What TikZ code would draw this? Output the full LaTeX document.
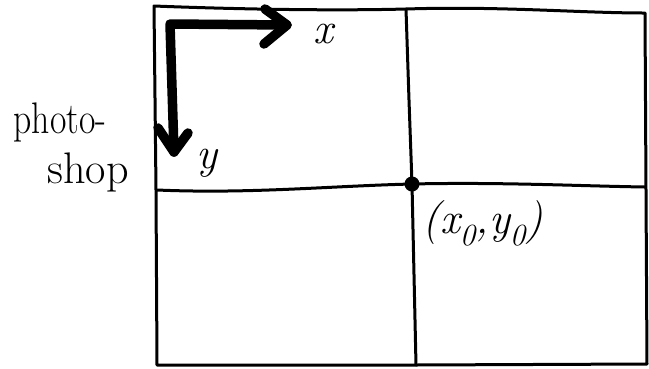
\documentclass[tikz,border=0pt]{standalone}
\usepackage{fontspec}
\begin{document}
\begin{tikzpicture}[x=1pt,y=-1pt,line cap=round,line join=round]
\tikzset{
  frame/.style={line width=3pt},
  axis/.style={line width=9.5pt},
  big/.style={inner sep=0pt,font=\fontsize{44}{48}\selectfont\itshape},
  hand/.style={inner sep=0pt,font=\fontsize{34}{38}\selectfont,yscale=1.3,transform shape}
}
\useasboundingbox (0,0) rectangle (649,368);
% corners and grid points
\coordinate (tl) at (154,6);
\coordinate (tm) at (406,9);
\coordinate (tr) at (645,13);
\coordinate (ml) at (157,190);
\coordinate (mr) at (645,187);
\coordinate (bl) at (157,365);
\coordinate (bm) at (416,365);
\coordinate (br) at (647,364);
% outer frame
\draw[frame] (tl) .. controls (230,9) and (330,11) .. (tm)
  .. controls (500,6) and (580,13) .. (tr)
  -- (646,190) -- (br) -- (bm) -- (bl) -- (156,190) -- cycle;
% inner lines
\draw[frame] (ml) .. controls (250,194) and (330,186) .. (412,184)
  .. controls (500,182) and (580,186) .. (mr);
\draw[frame] (tm) -- (409,100) -- (412,184) -- (bm);
% point
\node[circle,fill,inner sep=0pt,minimum size=15pt] (p) at (412,184) {};
% axes
\coordinate (o) at (170,24);
\coordinate (xe) at (287,25);
\coordinate (xa) at (265,9);
\coordinate (xb) at (264,44);
\coordinate (ye) at (174,152);
\coordinate (ya) at (158,128);
\coordinate (yb) at (188,133);
\draw[axis] (xe) -- (o) -- (ye);
\draw[axis] (xa) -- (xe) -- (xb);
\draw[axis] (ya) -- (ye) -- (yb);
% labels
\node[big] (lx) at (323,34) {x};
\node[big] (ly) at (207,163) {y};
\node[big] (lp) at (483,223) {(x\textsubscript{0},y\textsubscript{0})};
\node[hand,xscale=1.05] (ph) at (60,122) {photo-};
\node[hand,xscale=1.3] (sh) at (88,172) {shop};
\end{tikzpicture}
\end{document}
